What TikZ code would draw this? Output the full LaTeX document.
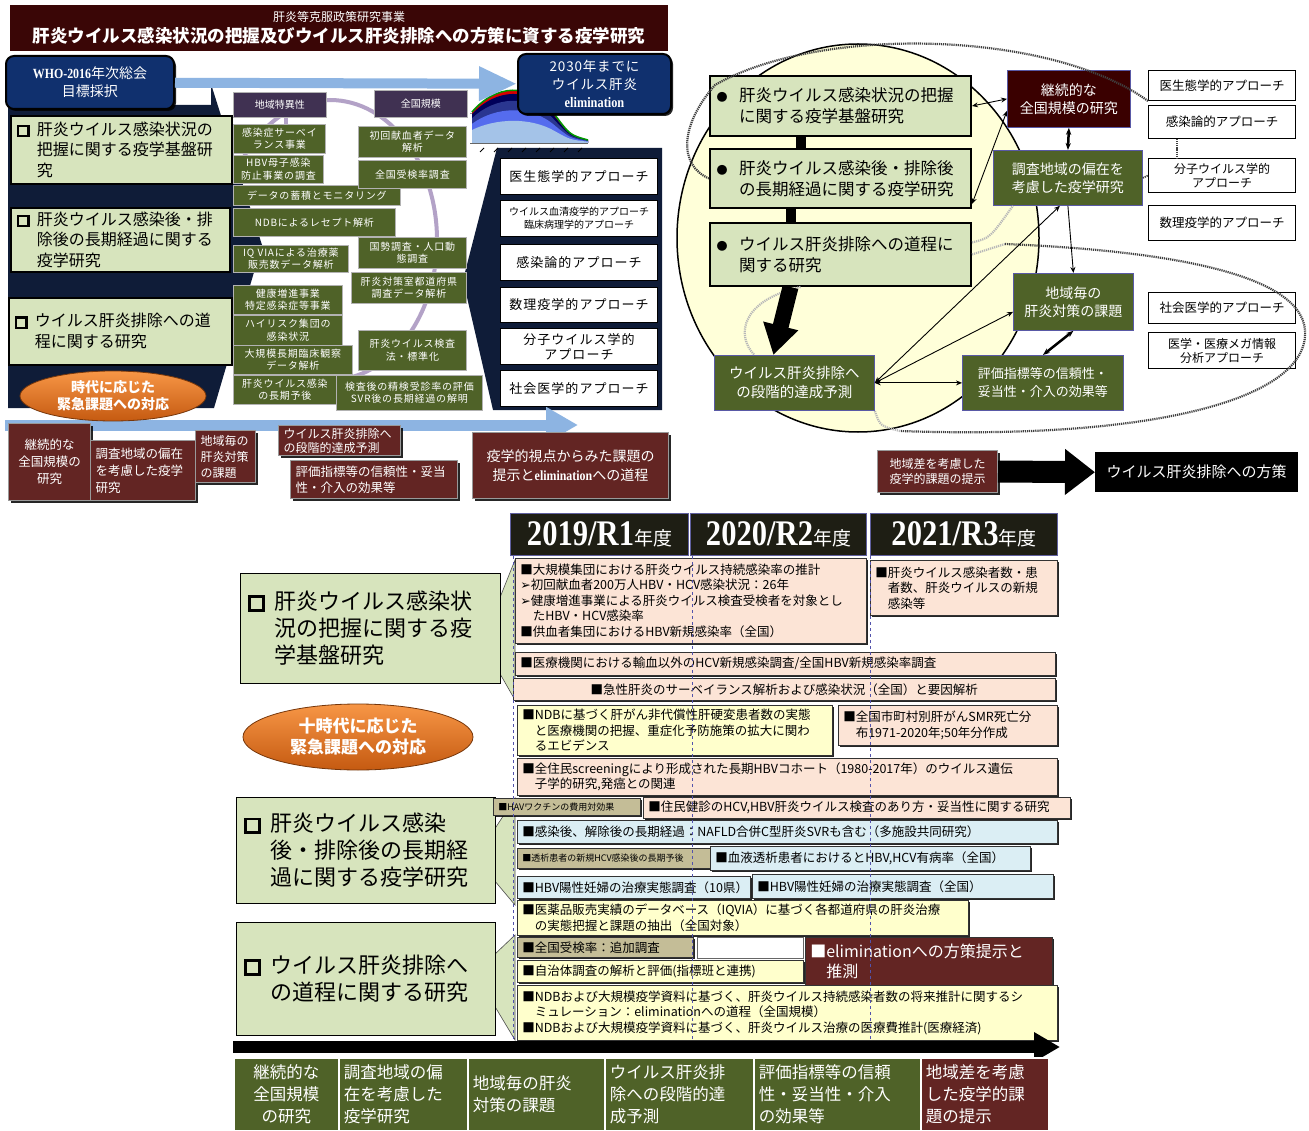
\documentclass[tikz,border=0pt]{standalone}
\usepackage{fontspec}
\setmainfont{Noto Sans CJK JP}
\newfontfamily\serifb[FakeStretch=0.85]{Liberation Serif}
\newfontfamily\dingfont{DejaVu Sans}
\usetikzlibrary{arrows.meta,shapes.geometric,shadows}

\definecolor{titlebg}{HTML}{3A0606}
\definecolor{navybox}{HTML}{10306E}
\definecolor{darkbg}{HTML}{0F1C38}
\definecolor{skyarrow}{HTML}{8DB4E2}
\definecolor{olivebox}{HTML}{4F6228}
\definecolor{purplebox}{HTML}{403152}
\definecolor{purpleline}{HTML}{B3A2C7}
\definecolor{paleolive}{HTML}{D7E4BD}
\definecolor{maroonbox}{HTML}{632523}
\definecolor{darkmaroon}{HTML}{3A0000}
\definecolor{peach}{HTML}{FCE4D6}
\definecolor{paleyellow}{HTML}{FFFFCC}
\definecolor{paleblue}{HTML}{DBEEF4}
\definecolor{tanbox}{HTML}{C4BD97}
\definecolor{ovalfill}{HTML}{FFFFD9}
\definecolor{yearbg}{HTML}{1E1E14}
\definecolor{orangetop}{HTML}{F79646}
\definecolor{orangebot}{HTML}{C55A11}

\newcommand\fsz[2]{\fontsize{#1}{#2}\selectfont}
% thick hollow square and small bullet used in the topic boxes
\newcommand\sqm{\hspace{0.1em}\raisebox{0.02em}{\setlength\fboxsep{0pt}\setlength\fboxrule{0.13em}\fbox{\rule{0pt}{0.5em}\hspace{0.5em}}}\hspace{0.45em}}
\newcommand\bul{\hspace{0.1em}{\fontsize{11}{11}\selectfont ●}\hspace{0.7em}}
% box from its top left corner: style, name, x, y, width, height, text
\newcommand\bx[7]{%
  \pgfmathsetmacro\tw{#5-10}%
  \node[#1, anchor=north west, minimum width=#5pt, minimum height=#6pt,
    text width=\tw pt, inner xsep=5pt, inner ysep=1pt] (#2) at (#3,#4) {#7};}

\tikzset{
  shd/.style={drop shadow={shadow xshift=2pt, shadow yshift=-2pt, fill=black, opacity=0.85}},
  navybx/.style={fill=navybox, draw=black, line width=2pt, rounded corners=8pt, text=white, align=center, shd},
  topic/.style={fill=paleolive, draw=black, line width=1.6pt, align=left},
  olivebx/.style={fill=olivebox, draw=white!70!black, line width=0.8pt, text=white, align=center,
    font=\fsz{10}{12.5}\addfontfeatures{LetterSpace=8}},
  purp/.style={fill=purplebox, draw=white!70!black, line width=0.8pt, text=white, align=center, font=\fsz{10}{12}},
  appr/.style={fill=white, draw=black, line width=1pt, align=center, font=\fsz{13}{15}\addfontfeatures{LetterSpace=8}},
  mbox/.style={fill=maroonbox, draw=white!60!black, line width=1pt, text=white, shd},
  rbox/.style={fill=olivebox, draw=blue!30!gray, line width=0.8pt, text=white, align=center, font=\fsz{14}{18}},
  cbox/.style={draw=black!80, line width=0.6pt, align=left, font=\fsz{12.5}{15.5}, shd},
  yearhd/.style={fill=yearbg, draw=blue!25!gray, line width=1pt, text=white, align=center},
  oval/.style={ellipse, top color=orangetop, bottom color=orangebot, draw=orangebot!60!black,
    line width=0.8pt, text=white, align=center, inner sep=0pt},
  chaindot/.style={black!75, line width=2.2pt, dash pattern=on 1.2pt off 0.9pt},
  graydot/.style={black!28, line width=2.2pt, dash pattern=on 1.2pt off 0.9pt},
  link/.style={{Stealth[length=6pt,width=5pt]}-{Stealth[length=6pt,width=5pt]}, line width=0.9pt},
  yearline/.style={blue!35!gray, dashed, line width=0.9pt}
}

\begin{document}
\begin{tikzpicture}[x=1pt, y=-1pt]
\useasboundingbox (0,0) rectangle (1309,1131);
\fill[white] (0,0) rectangle (1309,1131);

% ===== upper left: project outline =====
\draw[purpleline, line width=4pt] (330,240) ellipse [x radius=107, y radius=140];
\fill[darkbg] (8,105) -- (211,105) -- (211,84) -- (262,245) -- (214,408) -- (8,408) -- cycle;
\fill[darkbg] (497,148) -- (662,148) -- (662,410) -- (493,410) -- (463,280) -- cycle;

% chart under the goal box
\draw[black!40, line width=0.5pt] (470,113) -- (588,113);
\foreach \f/\c in {1/red!85!black, 0.93/blue!35!black, 0.8/blue!50!skyarrow!60!black, 0.62/blue!40!skyarrow, 0.42/skyarrow!80!white}{
  \begin{scope}[shift={(0,143)}, yscale=\f]
    \fill[\c] (472,0) -- (472,-31) .. controls (495,-58) and (530,-63) .. (555,-28)
      .. controls (570,-8) .. (588,-3) -- (588,0) -- cycle;
  \end{scope}
}
\draw[green!60!black, line width=1.5pt, shift={(0,143)}] (472,-31) .. controls (495,-58) and (530,-63) .. (555,-28)
  .. controls (570,-8) .. (588,-3);
\draw[black!60] (470,143) -- (588,143);
\foreach \t in {0,...,7} \draw[black, line width=1pt] (484+14*\t,148) -- ++(-4,4);

\bx{fill=titlebg, text=white, align=center, font=\bfseries\fsz{17.5}{21}}{title}{10}{5}{658}{46}
  {{\mdseries\fsz{12}{15}肝炎等克服政策研究事業}\\肝炎ウイルス感染状況の把握及びウイルス肝炎排除への方策に資する疫学研究}
\bx{navybx, font=\fsz{14}{18}}{who}{5}{55}{168}{53}{{\serifb\bfseries WHO-2016}年次総会\\目標採択}
\bx{navybx, font=\fsz{13.5}{18}\addfontfeatures{LetterSpace=6}}{goal}{517}{53}{153}{60}{2030年までに\\ウイルス肝炎\\{\serifb\bfseries\fsz{14.5}{18}elimination}}
\draw[skyarrow, line width=10pt, -{Triangle[length=38pt,width=32pt]}] (who) -- (goal);

\coordinate (sa) at (5,425);
\coordinate (sb) at (578,425);
\draw[skyarrow, line width=11pt, -{Triangle[length=32pt,width=34pt]}] (sa) -- (sb);

\bx{topic, font=\fsz{16}{20.5}}{tA}{10}{115}{221}{68}{\sqm 肝炎ウイルス感染状況の\\\phantom{\sqm}把握に関する疫学基盤研\\\phantom{\sqm}究}
\bx{topic, font=\fsz{16}{20.5}}{tB}{10}{207}{219}{64}{\sqm 肝炎ウイルス感染後・排\\\phantom{\sqm}除後の長期経過に関する\\\phantom{\sqm}疫学研究}
\bx{topic, font=\fsz{16}{20.5}}{tC}{8}{297}{223}{67}{\sqm ウイルス肝炎排除への道\\\phantom{\sqm}程に関する研究}

\bx{purp}{reg}{233}{92}{93}{25}{地域特異性}
\bx{purp}{nat}{374}{90}{93}{27}{全国規模}
\draw[purpleline, line width=4pt] ([xshift=6pt]reg.south) -- ([xshift=6pt,yshift=-1pt]reg.south |- 0,124);

\bx{olivebx}{s1}{233}{124}{92}{29}{感染症サーベイ\\ランス事業}
\bx{olivebx}{s2}{233}{155}{90}{28}{HBV母子感染\\防止事業の調査}
\bx{olivebx}{s3}{233}{185}{167}{20}{データの蓄積とモニタリング}
\bx{olivebx}{s4}{233}{208}{162}{28}{NDBによるレセプト解析}
\bx{olivebx}{s5}{233}{245}{115}{27}{IQ VIAによる治療薬\\販売数データ解析}
\bx{olivebx}{n1}{358}{126}{108}{31}{初回献血者データ\\解析}
\bx{olivebx}{n2}{358}{160}{108}{28}{全国受検率調査}
\bx{olivebx}{n3}{358}{237}{108}{31}{国勢調査・人口動\\態調査}
\bx{olivebx}{n4}{351}{272}{115}{31}{肝炎対策室都道府県\\調査データ解析}
\bx{olivebx}{s6}{233}{285}{109}{29}{健康増進事業\\特定感染症等事業}
\bx{olivebx}{s7}{233}{315}{109}{30}{ハイリスク集団の\\感染状況}
\bx{olivebx}{s8}{233}{345}{119}{29}{大規模長期臨床観察\\データ解析}
\bx{olivebx}{s9}{233}{375}{103}{29}{肝炎ウイルス感染\\の長期予後}
\bx{olivebx}{n5}{358}{330}{108}{40}{肝炎ウイルス検査\\法・標準化}
\bx{olivebx}{n6}{336}{375}{146}{35}{検査後の精検受診率の評価\\SVR後の長期経過の解明}

\bx{appr}{a1}{500}{158}{157}{36}{医生態学的アプローチ}
\bx{appr, font=\fsz{10}{13}}{a2}{500}{200}{157}{36}{ウイルス血清疫学的アプローチ\\臨床病理学的アプローチ}
\bx{appr}{a3}{500}{244}{157}{36}{感染論的アプローチ}
\bx{appr}{a4}{500}{287}{157}{35}{数理疫学的アプローチ}
\bx{appr}{a5}{500}{328}{157}{36}{分子ウイルス学的\\アプローチ}
\bx{appr}{a6}{500}{370}{157}{36}{社会医学的アプローチ}

\node[oval, minimum width=186pt, minimum height=50pt, font=\bfseries\fsz{14}{17}] (urgA) at (113,396) {時代に応じた\\緊急課題への対応};

\bx{mbox, align=center, font=\fsz{12.5}{17}}{m1}{8}{423}{82}{77}{継続的な\\全国規模の\\研究}
\bx{mbox, align=left, font=\fsz{12.5}{17}}{m2}{90}{440}{105}{60}{調査地域の偏在\\を考慮した疫学\\研究}
\bx{mbox, align=left, font=\fsz{12}{16}}{m3}{195}{430}{60}{52}{地域毎の\\肝炎対策\\の課題}
\bx{mbox, align=left, font=\fsz{12}{14}}{m4}{278}{425}{122}{30}{ウイルス肝炎排除へ\\の段階的達成予測}
\bx{mbox, align=left, font=\fsz{12.5}{16}}{m5}{290}{460}{167}{38}{評価指標等の信頼性・妥当\\性・介入の効果等}
\bx{mbox, align=center, font=\fsz{14}{19}}{m6}{472}{432}{196}{66}{疫学的視点からみた課題の\\提示と{\serifb\bfseries elimination}への道程}

% ===== upper right: how the studies connect =====
\draw[fill=ovalfill, line width=1.5pt] (858,238) ellipse [x radius=181, y radius=194];

\bx{topic, line width=2pt, font=\fsz{16.5}{21}}{R1}{709}{75}{261}{60}{\bul 肝炎ウイルス感染状況の把握\\\phantom{\bul}に関する疫学基盤研究}
\bx{topic, line width=2pt, font=\fsz{16.5}{21}}{R2}{709}{148}{261}{59}{\bul 肝炎ウイルス感染後・排除後\\\phantom{\bul}の長期経過に関する疫学研究}
\bx{topic, line width=2pt, font=\fsz{16.5}{21}}{R3}{709}{222}{261}{63}{\bul ウイルス肝炎排除への道程に\\\phantom{\bul}関する研究}

\bx{rbox, fill=darkmaroon}{k1}{1007}{70}{123}{57}{継続的な\\全国規模の研究}
\bx{rbox}{k2}{993}{150}{149}{55}{調査地域の偏在を\\考慮した疫学研究}
\bx{rbox}{k3}{1013}{273}{120}{57}{地域毎の\\肝炎対策の課題}
\bx{rbox, font=\fsz{14.5}{19}}{k4}{714}{355}{160}{55}{ウイルス肝炎排除へ\\の段階的達成予測}
\bx{rbox, font=\fsz{13}{18}}{k5}{962}{355}{161}{55}{評価指標等の信頼性・\\妥当性・介入の効果等}

\bx{appr, font=\fsz{12.5}{15}}{b1}{1148}{70}{147}{30}{医生態学的アプローチ}
\bx{appr, font=\fsz{12.5}{15}}{b2}{1148}{105}{147}{33}{感染論的アプローチ}
\bx{appr, font=\fsz{12}{14}}{b3}{1148}{158}{147}{34}{分子ウイルス学的\\アプローチ}
\bx{appr, font=\fsz{12.5}{15}}{b4}{1148}{205}{147}{35}{数理疫学的アプローチ}
\bx{appr, font=\fsz{12.5}{15}}{b5}{1148}{292}{147}{31}{社会医学的アプローチ}
\bx{appr, font=\fsz{12}{14}}{b6}{1148}{332}{147}{36}{医学・医療メガ情報\\分析アプローチ}

% dotted loops
\draw[chaindot] (b1.south west) .. controls (1050,30) and (820,25) .. (715,85)
  .. controls (680,125) and (678,165) .. (R2.west);
\coordinate (lp) at (1005,244);
\coordinate (lq) at (900,431);
\draw[graydot] (R3.east) -- (lp);
\draw[chaindot] (lp) .. controls (1150,250) and (1300,270) .. (1305,330)
  .. controls (1310,400) and (1150,440) .. (lq);
\draw[graydot] (lq) .. controls (880,426) .. (k4.south east);
\draw[graydot] ([xshift=-40pt]R3.south) .. controls (742,300) and (735,335) .. ([xshift=-40pt]k4.north);
\draw[graydot] ([yshift=12pt]R3.east) .. controls (990,238) .. ([xshift=-55pt]k2.south);
\draw[chaindot, line width=1.8pt] ([xshift=-45pt]b2.south) -- ([xshift=-45pt]b3.north);
\draw[chaindot, line width=1.8pt] (k2.east) -- (b3.west);

% solid links
\draw[line width=10pt] ([xshift=-40pt]R1.south) -- ([xshift=-40pt]R2.north);
\draw[line width=10pt] ([xshift=-50pt]R2.south) -- ([xshift=-50pt]R3.north);
\draw[line width=16pt, -{Triangle[length=30pt,width=34pt]}] ([xshift=-50pt]R3.south) -- ([xshift=-21pt]k4.north);
\draw[link] (R1.east) -- (k1.west);
\draw[link] ([yshift=5pt]R2.south east) -- ([yshift=-12pt]k1.west);
\draw[{Stealth[length=7pt]}-{Stealth[length=7pt]}, line width=2.5pt] (k1.south) -- (k2.north);
\draw[-{Stealth[length=6pt,width=5pt]}, line width=0.9pt] (k2.south) -- (k3.north);
\draw[link] (k4.east) -- ([xshift=-8pt]k2.south);
\draw[link] (k4.east) -- ([yshift=-10pt]k3.west);
\draw[link] (k4.east) -- (k5.west);
\draw[{Stealth[length=7pt]}-{Stealth[length=7pt]}, line width=2.5pt] (k3.south) -- (k5.north);

\bx{mbox, align=center, font=\fsz{12}{15}}{d1}{877}{450}{120}{42}{地域差を考慮した\\疫学的課題の提示}
\bx{fill=black, text=white, align=center, font=\fsz{15}{18}}{d2}{1095}{452}{203}{40}{ウイルス肝炎排除への方策}
\draw[line width=22pt, -{Triangle[length=30pt,width=44pt]}] (d1.east) -- (d2.west);

% ===== lower half: yearly plan =====
\filldraw[fill=paleolive, draw=black!70, line width=0.6pt] (499,600) -- (515,560) -- (515,700) -- (499,672) -- cycle;
\filldraw[fill=paleolive, draw=black!70, line width=0.6pt] (494,830) -- (515,798) -- (515,905) -- (494,880) -- cycle;
\filldraw[fill=paleolive, draw=black!70, line width=0.6pt] (494,955) -- (515,935) -- (515,1040) -- (494,1005) -- cycle;

\bx{topic, line width=1.4pt, font=\fsz{22}{27}}{L1}{240}{573}{260}{110}{\sqm 肝炎ウイルス感染状\\\phantom{\sqm}況の把握に関する疫\\\phantom{\sqm}学基盤研究}
\bx{topic, line width=1.4pt, font=\fsz{22}{27}}{L2}{236}{797}{259}{106}{\sqm 肝炎ウイルス感染\\\phantom{\sqm}後・排除後の長期経\\\phantom{\sqm}過に関する疫学研究}
\bx{topic, line width=1.4pt, font=\fsz{22}{27}}{L3}{236}{922}{259}{113}{\sqm ウイルス肝炎排除へ\\\phantom{\sqm}の道程に関する研究}
\node[oval, minimum width=230pt, minimum height=66pt, font=\bfseries\fsz{17}{21}] (urgB) at (358,737) {十時代に応じた\\緊急課題への対応};

\bx{yearhd}{yr1}{510}{513}{178}{42}{{\serifb\bfseries\fsz{36}{40}2019/R1}{\fsz{19}{22}年度}}
\bx{yearhd}{yr2}{690}{513}{176}{42}{{\serifb\bfseries\fsz{36}{40}2020/R2}{\fsz{19}{22}年度}}
\bx{yearhd}{yr3}{870}{513}{187}{42}{{\serifb\bfseries\fsz{36}{40}2021/R3}{\fsz{19}{22}年度}}

\bx{cbox, fill=peach}{c1}{515}{558}{351}{85}{■大規模集団における肝炎ウイルス持続感染率の推計\\{\dingfont ➢}初回献血者200万人HBV・HCV感染状況：26年\\{\dingfont ➢}健康増進事業による肝炎ウイルス検査受検者を対象とし\\\hspace{1em}たHBV・HCV感染率\\■供血者集団におけるHBV新規感染率（全国）}
\bx{cbox, fill=peach}{c2}{870}{560}{187}{55}{■肝炎ウイルス感染者数・患\\\phantom{■}者数、肝炎ウイルスの新規\\\phantom{■}感染等}
\bx{cbox, fill=peach}{c3}{515}{652}{540}{23}{■医療機関における輸血以外のHCV新規感染調査/全国HBV新規感染率調査}
\bx{cbox, fill=peach, align=center}{c4}{513}{678}{542}{22}{■急性肝炎のサーベイランス解析および感染状況（全国）と要因解析}
\bx{cbox, fill=paleyellow}{c5}{517}{705}{315}{50}{■NDBに基づく肝がん非代償性肝硬変患者数の実態\\\phantom{■}と医療機関の把握、重症化予防施策の拡大に関わ\\\phantom{■}るエビデンス}
\bx{cbox, fill=peach}{c6}{838}{705}{219}{40}{■全国市町村別肝がんSMR死亡分\\\phantom{■}布1971-2020年;50年分作成}
\bx{cbox, fill=peach}{c7}{517}{758}{540}{37}{■全住民screeningにより形成された長期HBVコホート（1980-2017年）のウイルス遺伝\\\phantom{■}子学的研究,発癌との関連}
\bx{cbox, fill=tanbox, font=\fsz{9}{11}}{c8}{493}{798}{147}{17}{■HAVワクチンの費用対効果}
\bx{cbox, fill=peach}{c9}{643}{797}{427}{21}{■住民健診のHCV,HBV肝炎ウイルス検査のあり方・妥当性に関する研究}
\bx{cbox, fill=paleblue}{c10}{517}{820}{540}{23}{■感染後、解除後の長期経過：NAFLD合併C型肝炎SVRも含む（多施設共同研究）}
\bx{cbox, fill=tanbox, font=\fsz{9}{11}}{c11}{517}{848}{200}{20}{■透析患者の新規HCV感染後の長期予後}
\bx{cbox, fill=paleblue}{c12}{710}{846}{320}{24}{■血液透析患者におけるとHBV,HCV有病率（全国）}
\bx{cbox, fill=paleblue}{c13}{517}{876}{233}{22}{■HBV陽性妊婦の治療実態調査（10県）}
\bx{cbox, fill=paleblue}{c14}{752}{874}{301}{24}{■HBV陽性妊婦の治療実態調査（全国）}
\bx{cbox, fill=paleyellow}{c15}{517}{900}{451}{35}{■医薬品販売実績のデータベース（IQVIA）に基づく各都道府県の肝炎治療\\\phantom{■}の実態把握と課題の抽出（全国対象）}
\bx{cbox, fill=tanbox}{c16}{517}{937}{176}{20}{■全国受検率：追加調査}
\bx{fill=white, draw=black!60, line width=0.6pt}{blank}{697}{937}{106}{21}{}
\bx{cbox, fill=maroonbox, text=white, font=\fsz{16}{20}}{elim}{805}{937}{247}{48}{■eliminationへの方策提示と\\\phantom{■}推測}
\bx{cbox, fill=paleyellow}{c19}{517}{960}{286}{22}{■自治体調査の解析と評価(指標班と連携)}
\bx{cbox, fill=paleyellow}{c20}{517}{985}{540}{55}{■NDBおよび大規模疫学資料に基づく、肝炎ウイルス持続感染者数の将来推計に関するシ\\\phantom{■}ミュレーション：eliminationへの道程（全国規模）\\■NDBおよび大規模疫学資料に基づく、肝炎ウイルス治療の医療費推計(医療経済)}

\foreach \yx in {513,692,870} \draw[yearline] (\yx,556) -- (\yx,1045);

\coordinate (tl0) at (233,1047);
\coordinate (tl1) at (1060,1047);
\draw[line width=12pt, -{Triangle[length=26pt,width=28pt]}] (tl0) -- (tl1);

\bx{olivebx, draw=white, line width=1.5pt, font=\fsz{16.5}{22}}{e1}{233}{1057}{105}{73}{継続的な\\全国規模\\の研究}
\bx{olivebx, draw=white, line width=1.5pt, align=left, font=\fsz{16.5}{22}}{e2}{338}{1057}{129}{73}{調査地域の偏\\在を考慮した\\疫学研究}
\bx{olivebx, draw=white, line width=1.5pt, align=left, font=\fsz{16.5}{22}}{e3}{467}{1057}{137}{73}{地域毎の肝炎\\対策の課題}
\bx{olivebx, draw=white, line width=1.5pt, align=left, font=\fsz{16.5}{22}}{e4}{604}{1057}{149}{73}{ウイルス肝炎排\\除への段階的達\\成予測}
\bx{olivebx, draw=white, line width=1.5pt, align=left, font=\fsz{16.5}{22}}{e5}{753}{1057}{167}{73}{評価指標等の信頼\\性・妥当性・介入\\の効果等}
\bx{olivebx, fill=maroonbox, draw=white, line width=1.5pt, align=left, font=\fsz{16.5}{22}}{e6}{920}{1057}{128}{73}{地域差を考慮\\した疫学的課\\題の提示}
\end{tikzpicture}
\end{document}
